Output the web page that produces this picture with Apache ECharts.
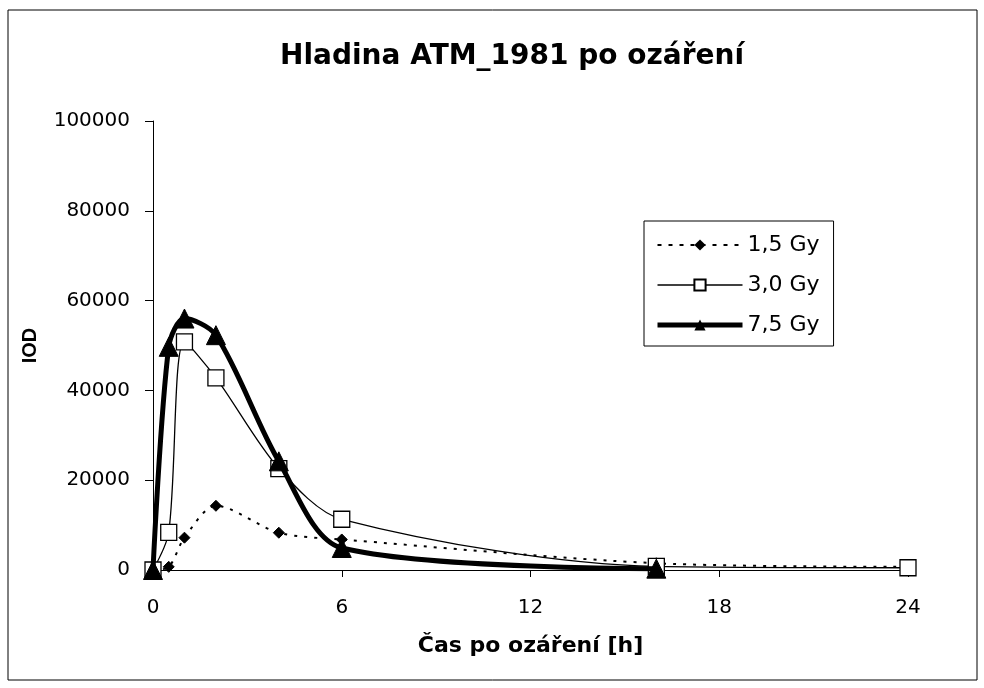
<!DOCTYPE html>
<html>
<head>
<meta charset="utf-8">
<script src="https://cdn.jsdelivr.net/npm/echarts@6/dist/echarts.min.js"></script>
<style>
html,body{margin:0;padding:0;background:#fff;}
#chart{width:984px;height:688px;}
</style>
</head>
<body>
<div id="chart"></div>
<script>
const timeHours = [0, 0.5, 1, 2, 4, 6, 16, 24];
const gy15 = [0, 700, 7200, 14300, 8300, 6800, 1500, 700];
const gy30 = [0, 8400, 50800, 42800, 22600, 11300, 800, 500];
const gy75 = [0, 49700, 56000, 52300, 24200, 4900, 300, null];
const seriesNames = ['1,5 Gy', '3,0 Gy', '7,5 Gy'];
const xTicks = [0, 6, 12, 18, 24];
const yTicks = [0, 20000, 40000, 60000, 80000, 100000];

function pairs(vals) {
  return timeHours.map((t, i) => [t, vals[i]]).filter(p => p[1] !== null);
}

const chart = echarts.init(document.getElementById('chart'));
const font = '"DejaVu Sans", Verdana, sans-serif';
const fontNarrow = '"Liberation Sans", Arial, sans-serif';
chart.setOption({
  backgroundColor: '#fff',
  animation: false,
  title: {
    text: 'Hladina ATM_1981 po ozáření',
    left: 275,
    top: 38,
    textStyle: { fontFamily: font, fontSize: 28, fontWeight: 'bold', color: '#000' }
  },
  graphic: [{
    type: 'rect',
    shape: { x: 8, y: 10, width: 969, height: 670 },
    style: { fill: 'none', stroke: '#000', lineWidth: 1 }
  }],
  legend: {
    orient: 'vertical',
    left: 644,
    top: 221,
    itemWidth: 85,
    itemHeight: 14,
    itemGap: 18,
    padding: [13, 14, 10, 11],
    borderColor: '#000',
    borderWidth: 1,
    data: [
      { name: seriesNames[0], lineStyle: { width: 2, type: [4, 7] } },
      { name: seriesNames[1], lineStyle: { width: 1.5 } },
      { name: seriesNames[2], lineStyle: { width: 5 } }
    ],
    textStyle: { fontFamily: font, fontSize: 22, color: '#000', padding: [0, 0, 0, 0] }
  },
  grid: { left: 153, right: 76, top: 121, bottom: 118 },
  xAxis: {
    type: 'value',
    min: 0, max: 24, interval: 6,
    name: 'Čas po ozáření [h]',
    nameLocation: 'middle',
    nameGap: 65,
    nameTextStyle: { fontFamily: font, fontSize: 22, fontWeight: 'bold', color: '#000' },
    axisLine: { lineStyle: { color: '#000', width: 1 } },
    axisTick: { show: true, inside: false, length: 7, lineStyle: { color: '#000' } },
    axisLabel: { fontFamily: font, fontSize: 20, color: '#000', margin: 28,
      formatter: v => xTicks.includes(v) ? String(v) : '' },
    splitLine: { show: false }
  },
  yAxis: {
    type: 'value',
    min: 0, max: 100000, interval: 20000,
    name: 'IOD',
    nameLocation: 'middle',
    nameGap: 113,
    nameRotate: 90,
    nameTextStyle: { fontFamily: fontNarrow, fontSize: 20, fontWeight: 'bold', color: '#000' },
    axisLine: { show: true, lineStyle: { color: '#000', width: 1 } },
    axisTick: { show: true, inside: false, length: 8, lineStyle: { color: '#000' } },
    axisLabel: { fontFamily: font, fontSize: 20, color: '#000', margin: 23,
      formatter: v => yTicks.includes(v) ? String(v) : '' },
    splitLine: { show: false }
  },
  series: [
    {
      name: seriesNames[0],
      type: 'line',
      data: pairs(gy15),
      smooth: 0.3,
      symbol: 'diamond',
      symbolSize: 11,
      itemStyle: { color: '#000', borderColor: '#000' },
      lineStyle: { color: '#000', width: 2, type: [3, 7] },
      z: 2
    },
    {
      name: seriesNames[1],
      type: 'line',
      data: pairs(gy30),
      smooth: 0.3,
      symbol: 'rect',
      symbolSize: 16,
      itemStyle: { color: '#fff', borderColor: '#000', borderWidth: 1.3 },
      lineStyle: { color: '#000', width: 1.3 },
      z: 3
    },
    {
      name: seriesNames[2],
      type: 'line',
      data: pairs(gy75),
      smooth: 0.3,
      symbol: 'triangle',
      symbolSize: 19,
      itemStyle: { color: '#000', borderColor: '#000' },
      lineStyle: { color: '#000', width: 5 },
      z: 4
    }
  ]
});
</script>
</body>
</html>
